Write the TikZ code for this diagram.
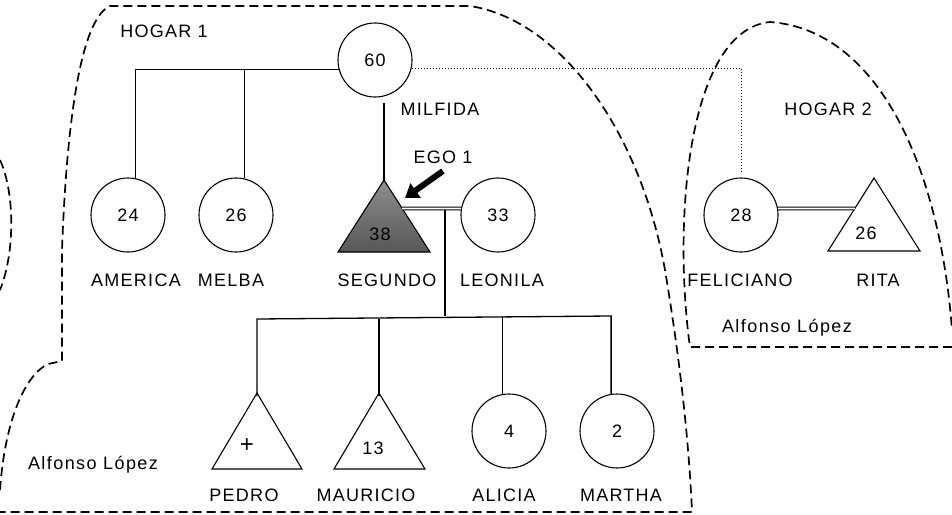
\documentclass[tikz,border=0pt]{standalone}
\usepackage{fontspec}
\setmainfont{Liberation Sans}
\newfontfamily\lblfont[LetterSpace=7]{Liberation Sans}
\newfontfamily\alffont[LetterSpace=8]{Liberation Sans}
\usetikzlibrary{arrows.meta,calc}
\definecolor{egotop}{HTML}{8E8E8E}
\definecolor{egobot}{HTML}{575757}
\begin{document}
\begin{tikzpicture}[x=1pt,y=-1pt,
  lab/.style={font=\lblfont\fontsize{18}{20}\selectfont, inner sep=0pt, anchor=base},
  small/.style={font=\alffont\fontsize{18}{20}\selectfont, inner sep=0pt, anchor=base},
  person/.style={circle, draw, line width=1.1pt, minimum size=74pt, inner sep=0pt, font=\lblfont\fontsize{18}{20}\selectfont},
  num/.style={inner sep=0pt, font=\lblfont\fontsize{18}{20}\selectfont},
  tri/.style={draw, line width=1.1pt, line join=miter},
  link/.style={line width=1.3pt},
  kin/.style={line width=1pt, dotted},
  marriage/.style={double, double distance=1.8pt, line width=1pt},
  household/.style={line width=1.7pt, dash pattern=on 9pt off 5pt},
  egoarrow/.style={line width=6pt, -{Triangle[length=13pt,width=17pt]}}]
\useasboundingbox (0,0) rectangle (952,514);
\fill[white] (0,0) rectangle (952,514);

% households
\draw[household] (0,490) .. controls (5,420) and (25,375) .. (48,364) -- (62,361) -- (62,250)
  .. controls (66,140) and (78,20) .. (110,6) -- (470,6)
  .. controls (560,20) and (640,130) .. (665,270)
  .. controls (675,330) and (688,420) .. (692,512) -- (0,512);
\draw[household] (952,347) -- (690,347) -- (689,340)
  .. controls (673,210) and (690,30) .. (770,22)
  .. controls (880,30) and (940,170) .. (952,330);
\draw[household] (0,160) .. controls (14,190) and (16,250) .. (0,290);

% people
\node[person] (c60) at (375,60) {60};
\node[person] (c24) at (128,215) {24};
\node[person] (c26) at (236,215) {26};
\node[person] (c33) at (498,215) {33};
\node[person] (c28) at (741,215) {28};
\node[person] (alicia) at (509,431) {4};
\node[person] (martha) at (617,431) {2};

\coordinate (segA) at (384,180); \coordinate (segL) at (338,252); \coordinate (segR) at (430,252);
\draw[tri, top color=egotop, bottom color=egobot] (segA) -- (segR) -- (segL) -- cycle;
\node[num] (seg) at (380,234) {38};

\coordinate (ritA) at (874,178); \coordinate (ritL) at (828,251); \coordinate (ritR) at (920,251);
\draw[tri] (ritA) -- (ritR) -- (ritL) -- cycle;
\node[num] (rit) at (866,233) {26};

\coordinate (pedA) at (257,393); \coordinate (pedL) at (212,469); \coordinate (pedR) at (302,469);
\draw[tri] (pedA) -- (pedR) -- (pedL) -- cycle;
\node[inner sep=0pt, font=\fontsize{24}{24}\selectfont] (ped) at (247,446) {+};

\coordinate (mauA) at (379,393); \coordinate (mauL) at (334,469); \coordinate (mauR) at (425,469);
\draw[tri] (mauA) -- (mauR) -- (mauL) -- cycle;
\node[num] (mau) at (373,448) {13};

% connectors
\draw[link] (c60.195) -| (c24.78);
\draw[link] (c26.77) -- (c26.77 |- c60.195);
\draw[link] ([yshift=-5pt]segA |- c60.south) -- (segA);
\draw[kin] (c60.-13) -| ([yshift=6pt]c28.north);
\draw[marriage] ($(segA)!0.396!(segR)$) -- (c33.170);
\draw[marriage] (c28.10) -- ($(ritA)!0.418!(ritL)$);
\coordinate (m1) at (445,210);
\coordinate (bar) at (445,316);
\draw[link] (m1) -- (bar);
\draw[link] ([yshift=-3pt]pedA) -- ([yshift=-3pt]pedA |- bar) -- (martha.99 |- bar) -- (martha.99);
\draw[link] ([yshift=-3pt]mauA) -- ([yshift=-3pt]mauA |- bar);
\draw[link] (alicia.100) -- (alicia.100 |- bar);

% ego arrow
\coordinate (egoS) at (443,171);
\coordinate (egoT) at (405,198);
\draw[egoarrow] (egoS) -- (egoT);

% labels
\node[lab] (hogar1) at (164,37) {HOGAR 1};
\node[lab] (hogar2) at (828,115) {HOGAR 2};
\node[lab] (milfida) at (440,115) {MILFIDA};
\node[lab] (ego) at (443,163) {EGO 1};
\node[lab] (america) at (136,286) {AMERICA};
\node[lab] (melba) at (231,286) {MELBA};
\node[lab] (segundo) at (387,286) {SEGUNDO};
\node[lab] (leonila) at (502,286) {LEONILA};
\node[lab] (feliciano) at (740,286) {FELICIANO};
\node[lab] (rita) at (878,286) {RITA};
\node[lab] (pedro) at (244,501) {PEDRO};
\node[lab] (mauricio) at (366,501) {MAURICIO};
\node[lab] (aliciaL) at (504,501) {ALICIA};
\node[lab] (marthaL) at (621,501) {MARTHA};
\node[small] (alf1) at (93,469) {Alfonso López};
\node[small] (alf2) at (787,332) {Alfonso López};
\end{tikzpicture}
\end{document}
